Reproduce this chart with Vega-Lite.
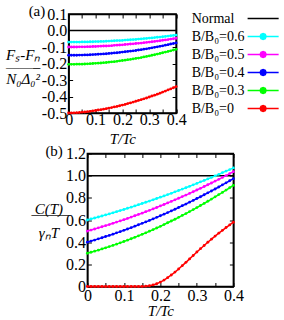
{
  "$schema": "https://vega.github.io/schema/vega-lite/v6.json",
  "padding": {"left": 4.5, "top": 3, "right": 0, "bottom": 0},
  "background": "white",
  "datasets": {
    "curves": [
      {"s":"Normal","t":0,"f":0,"c":1},{"s":"Normal","t":0.4,"f":0,"c":1},
      {"s":"0.6","t":0,"f":-0.07,"c":0.6},{"s":"0.6","t":0.01,"f":-0.07,"c":0.609},{"s":"0.6","t":0.02,"f":-0.07,"c":0.618},{"s":"0.6","t":0.03,"f":-0.07,"c":0.627},{"s":"0.6","t":0.04,"f":-0.07,"c":0.636},{"s":"0.6","t":0.05,"f":-0.069,"c":0.646},{"s":"0.6","t":0.06,"f":-0.069,"c":0.655},{"s":"0.6","t":0.07,"f":-0.069,"c":0.665},{"s":"0.6","t":0.08,"f":-0.068,"c":0.675},{"s":"0.6","t":0.09,"f":-0.068,"c":0.685},{"s":"0.6","t":0.1,"f":-0.067,"c":0.695},{"s":"0.6","t":0.11,"f":-0.067,"c":0.706},{"s":"0.6","t":0.12,"f":-0.066,"c":0.716},{"s":"0.6","t":0.13,"f":-0.066,"c":0.727},{"s":"0.6","t":0.14,"f":-0.065,"c":0.738},{"s":"0.6","t":0.15,"f":-0.064,"c":0.749},{"s":"0.6","t":0.16,"f":-0.063,"c":0.76},{"s":"0.6","t":0.17,"f":-0.062,"c":0.771},{"s":"0.6","t":0.18,"f":-0.061,"c":0.782},{"s":"0.6","t":0.19,"f":-0.061,"c":0.794},{"s":"0.6","t":0.2,"f":-0.06,"c":0.806},{"s":"0.6","t":0.21,"f":-0.058,"c":0.817},{"s":"0.6","t":0.22,"f":-0.057,"c":0.829},{"s":"0.6","t":0.23,"f":-0.056,"c":0.841},{"s":"0.6","t":0.24,"f":-0.055,"c":0.854},{"s":"0.6","t":0.25,"f":-0.054,"c":0.866},{"s":"0.6","t":0.26,"f":-0.052,"c":0.879},{"s":"0.6","t":0.27,"f":-0.051,"c":0.891},{"s":"0.6","t":0.28,"f":-0.049,"c":0.904},{"s":"0.6","t":0.29,"f":-0.048,"c":0.917},{"s":"0.6","t":0.3,"f":-0.046,"c":0.93},{"s":"0.6","t":0.31,"f":-0.045,"c":0.944},{"s":"0.6","t":0.32,"f":-0.043,"c":0.957},{"s":"0.6","t":0.33,"f":-0.041,"c":0.971},{"s":"0.6","t":0.34,"f":-0.04,"c":0.984},{"s":"0.6","t":0.35,"f":-0.038,"c":0.998},{"s":"0.6","t":0.36,"f":-0.036,"c":1.012},{"s":"0.6","t":0.37,"f":-0.034,"c":1.027},{"s":"0.6","t":0.38,"f":-0.032,"c":1.041},{"s":"0.6","t":0.39,"f":-0.03,"c":1.055},{"s":"0.6","t":0.4,"f":-0.028,"c":1.07},
      {"s":"0.5","t":0,"f":-0.1,"c":0.5},{"s":"0.5","t":0.01,"f":-0.1,"c":0.509},{"s":"0.5","t":0.02,"f":-0.1,"c":0.519},{"s":"0.5","t":0.03,"f":-0.1,"c":0.529},{"s":"0.5","t":0.04,"f":-0.099,"c":0.539},{"s":"0.5","t":0.05,"f":-0.099,"c":0.549},{"s":"0.5","t":0.06,"f":-0.099,"c":0.559},{"s":"0.5","t":0.07,"f":-0.098,"c":0.57},{"s":"0.5","t":0.08,"f":-0.098,"c":0.581},{"s":"0.5","t":0.09,"f":-0.097,"c":0.592},{"s":"0.5","t":0.1,"f":-0.097,"c":0.603},{"s":"0.5","t":0.11,"f":-0.096,"c":0.614},{"s":"0.5","t":0.12,"f":-0.095,"c":0.626},{"s":"0.5","t":0.13,"f":-0.094,"c":0.638},{"s":"0.5","t":0.14,"f":-0.094,"c":0.65},{"s":"0.5","t":0.15,"f":-0.093,"c":0.662},{"s":"0.5","t":0.16,"f":-0.092,"c":0.675},{"s":"0.5","t":0.17,"f":-0.09,"c":0.687},{"s":"0.5","t":0.18,"f":-0.089,"c":0.7},{"s":"0.5","t":0.19,"f":-0.088,"c":0.713},{"s":"0.5","t":0.2,"f":-0.087,"c":0.727},{"s":"0.5","t":0.21,"f":-0.085,"c":0.74},{"s":"0.5","t":0.22,"f":-0.084,"c":0.754},{"s":"0.5","t":0.23,"f":-0.082,"c":0.768},{"s":"0.5","t":0.24,"f":-0.081,"c":0.782},{"s":"0.5","t":0.25,"f":-0.079,"c":0.796},{"s":"0.5","t":0.26,"f":-0.078,"c":0.811},{"s":"0.5","t":0.27,"f":-0.076,"c":0.825},{"s":"0.5","t":0.28,"f":-0.074,"c":0.84},{"s":"0.5","t":0.29,"f":-0.072,"c":0.855},{"s":"0.5","t":0.3,"f":-0.07,"c":0.871},{"s":"0.5","t":0.31,"f":-0.068,"c":0.886},{"s":"0.5","t":0.32,"f":-0.066,"c":0.902},{"s":"0.5","t":0.33,"f":-0.064,"c":0.918},{"s":"0.5","t":0.34,"f":-0.062,"c":0.934},{"s":"0.5","t":0.35,"f":-0.059,"c":0.951},{"s":"0.5","t":0.36,"f":-0.057,"c":0.967},{"s":"0.5","t":0.37,"f":-0.055,"c":0.984},{"s":"0.5","t":0.38,"f":-0.052,"c":1.001},{"s":"0.5","t":0.39,"f":-0.05,"c":1.019},{"s":"0.5","t":0.4,"f":-0.047,"c":1.036},
      {"s":"0.4","t":0,"f":-0.15,"c":0.4},{"s":"0.4","t":0.01,"f":-0.15,"c":0.41},{"s":"0.4","t":0.02,"f":-0.15,"c":0.419},{"s":"0.4","t":0.03,"f":-0.15,"c":0.43},{"s":"0.4","t":0.04,"f":-0.149,"c":0.44},{"s":"0.4","t":0.05,"f":-0.149,"c":0.451},{"s":"0.4","t":0.06,"f":-0.148,"c":0.461},{"s":"0.4","t":0.07,"f":-0.148,"c":0.472},{"s":"0.4","t":0.08,"f":-0.147,"c":0.484},{"s":"0.4","t":0.09,"f":-0.146,"c":0.495},{"s":"0.4","t":0.1,"f":-0.145,"c":0.507},{"s":"0.4","t":0.11,"f":-0.144,"c":0.519},{"s":"0.4","t":0.12,"f":-0.143,"c":0.531},{"s":"0.4","t":0.13,"f":-0.142,"c":0.544},{"s":"0.4","t":0.14,"f":-0.141,"c":0.557},{"s":"0.4","t":0.15,"f":-0.139,"c":0.57},{"s":"0.4","t":0.16,"f":-0.138,"c":0.583},{"s":"0.4","t":0.17,"f":-0.136,"c":0.596},{"s":"0.4","t":0.18,"f":-0.135,"c":0.61},{"s":"0.4","t":0.19,"f":-0.133,"c":0.624},{"s":"0.4","t":0.2,"f":-0.131,"c":0.638},{"s":"0.4","t":0.21,"f":-0.129,"c":0.653},{"s":"0.4","t":0.22,"f":-0.127,"c":0.667},{"s":"0.4","t":0.23,"f":-0.125,"c":0.682},{"s":"0.4","t":0.24,"f":-0.123,"c":0.697},{"s":"0.4","t":0.25,"f":-0.121,"c":0.713},{"s":"0.4","t":0.26,"f":-0.118,"c":0.729},{"s":"0.4","t":0.27,"f":-0.116,"c":0.744},{"s":"0.4","t":0.28,"f":-0.113,"c":0.761},{"s":"0.4","t":0.29,"f":-0.111,"c":0.777},{"s":"0.4","t":0.3,"f":-0.108,"c":0.794},{"s":"0.4","t":0.31,"f":-0.105,"c":0.81},{"s":"0.4","t":0.32,"f":-0.102,"c":0.828},{"s":"0.4","t":0.33,"f":-0.099,"c":0.845},{"s":"0.4","t":0.34,"f":-0.096,"c":0.862},{"s":"0.4","t":0.35,"f":-0.093,"c":0.88},{"s":"0.4","t":0.36,"f":-0.089,"c":0.898},{"s":"0.4","t":0.37,"f":-0.086,"c":0.917},{"s":"0.4","t":0.38,"f":-0.082,"c":0.935},{"s":"0.4","t":0.39,"f":-0.079,"c":0.954},{"s":"0.4","t":0.4,"f":-0.075,"c":0.973},
      {"s":"0.3","t":0,"f":-0.205,"c":0.3},{"s":"0.3","t":0.01,"f":-0.205,"c":0.309},{"s":"0.3","t":0.02,"f":-0.205,"c":0.319},{"s":"0.3","t":0.03,"f":-0.204,"c":0.328},{"s":"0.3","t":0.04,"f":-0.204,"c":0.339},{"s":"0.3","t":0.05,"f":-0.204,"c":0.349},{"s":"0.3","t":0.06,"f":-0.203,"c":0.36},{"s":"0.3","t":0.07,"f":-0.202,"c":0.371},{"s":"0.3","t":0.08,"f":-0.201,"c":0.382},{"s":"0.3","t":0.09,"f":-0.2,"c":0.394},{"s":"0.3","t":0.1,"f":-0.199,"c":0.406},{"s":"0.3","t":0.11,"f":-0.198,"c":0.418},{"s":"0.3","t":0.12,"f":-0.197,"c":0.431},{"s":"0.3","t":0.13,"f":-0.195,"c":0.444},{"s":"0.3","t":0.14,"f":-0.194,"c":0.457},{"s":"0.3","t":0.15,"f":-0.192,"c":0.471},{"s":"0.3","t":0.16,"f":-0.19,"c":0.484},{"s":"0.3","t":0.17,"f":-0.189,"c":0.499},{"s":"0.3","t":0.18,"f":-0.187,"c":0.513},{"s":"0.3","t":0.19,"f":-0.184,"c":0.528},{"s":"0.3","t":0.2,"f":-0.182,"c":0.543},{"s":"0.3","t":0.21,"f":-0.18,"c":0.559},{"s":"0.3","t":0.22,"f":-0.177,"c":0.575},{"s":"0.3","t":0.23,"f":-0.175,"c":0.591},{"s":"0.3","t":0.24,"f":-0.172,"c":0.607},{"s":"0.3","t":0.25,"f":-0.169,"c":0.624},{"s":"0.3","t":0.26,"f":-0.167,"c":0.641},{"s":"0.3","t":0.27,"f":-0.164,"c":0.658},{"s":"0.3","t":0.28,"f":-0.16,"c":0.676},{"s":"0.3","t":0.29,"f":-0.157,"c":0.694},{"s":"0.3","t":0.3,"f":-0.154,"c":0.712},{"s":"0.3","t":0.31,"f":-0.15,"c":0.731},{"s":"0.3","t":0.32,"f":-0.147,"c":0.75},{"s":"0.3","t":0.33,"f":-0.143,"c":0.769},{"s":"0.3","t":0.34,"f":-0.139,"c":0.789},{"s":"0.3","t":0.35,"f":-0.135,"c":0.809},{"s":"0.3","t":0.36,"f":-0.131,"c":0.829},{"s":"0.3","t":0.37,"f":-0.127,"c":0.849},{"s":"0.3","t":0.38,"f":-0.123,"c":0.87},{"s":"0.3","t":0.39,"f":-0.118,"c":0.891},{"s":"0.3","t":0.4,"f":-0.114,"c":0.913},
      {"s":"0","t":0,"f":-0.5,"c":0},{"s":"0","t":0.01,"f":-0.5,"c":0},{"s":"0","t":0.02,"f":-0.499,"c":0},{"s":"0","t":0.03,"f":-0.498,"c":0},{"s":"0","t":0.04,"f":-0.497,"c":0},{"s":"0","t":0.05,"f":-0.495,"c":0},{"s":"0","t":0.06,"f":-0.494,"c":0},{"s":"0","t":0.07,"f":-0.492,"c":0},{"s":"0","t":0.08,"f":-0.49,"c":0},{"s":"0","t":0.09,"f":-0.487,"c":0},{"s":"0","t":0.1,"f":-0.485,"c":0},{"s":"0","t":0.11,"f":-0.482,"c":0},{"s":"0","t":0.12,"f":-0.48,"c":0},{"s":"0","t":0.13,"f":-0.477,"c":0},{"s":"0","t":0.14,"f":-0.474,"c":0},{"s":"0","t":0.15,"f":-0.47,"c":0.001},{"s":"0","t":0.16,"f":-0.467,"c":0.003},{"s":"0","t":0.17,"f":-0.463,"c":0.007},{"s":"0","t":0.18,"f":-0.46,"c":0.014},{"s":"0","t":0.19,"f":-0.456,"c":0.025},{"s":"0","t":0.2,"f":-0.452,"c":0.04},{"s":"0","t":0.21,"f":-0.448,"c":0.058},{"s":"0","t":0.22,"f":-0.443,"c":0.08},{"s":"0","t":0.23,"f":-0.439,"c":0.104},{"s":"0","t":0.24,"f":-0.434,"c":0.13},{"s":"0","t":0.25,"f":-0.429,"c":0.158},{"s":"0","t":0.26,"f":-0.424,"c":0.188},{"s":"0","t":0.27,"f":-0.419,"c":0.218},{"s":"0","t":0.28,"f":-0.414,"c":0.249},{"s":"0","t":0.29,"f":-0.409,"c":0.28},{"s":"0","t":0.3,"f":-0.403,"c":0.311},{"s":"0","t":0.31,"f":-0.397,"c":0.341},{"s":"0","t":0.32,"f":-0.392,"c":0.37},{"s":"0","t":0.33,"f":-0.386,"c":0.399},{"s":"0","t":0.34,"f":-0.38,"c":0.427},{"s":"0","t":0.35,"f":-0.373,"c":0.455},{"s":"0","t":0.36,"f":-0.367,"c":0.481},{"s":"0","t":0.37,"f":-0.36,"c":0.507},{"s":"0","t":0.38,"f":-0.354,"c":0.532},{"s":"0","t":0.39,"f":-0.347,"c":0.556},{"s":"0","t":0.4,"f":-0.34,"c":0.58}
    ]
  },
  "data": {"name": "curves"},
  "spacing": -4.5,
  "center": true,
  "resolve": {"scale": {"color": "independent", "x": "independent", "y": "independent"}},
  "vconcat": [
    {
      "width": 107.5,
      "height": 99,
      "title": {"text": "(a)", "dx": -40, "offset": -13},
      "layer": [
        {
          "mark": {"type": "line", "strokeWidth": 1.5},
          "encoding": {
            "x": {"field": "t", "type": "quantitative", "scale": {"domain": [0, 0.4], "nice": false, "zero": false},
              "axis": {"orient": "bottom", "values": [0, 0.05, 0.1, 0.15, 0.2, 0.25, 0.3, 0.35, 0.4], "labelPadding": 2,
                "labelExpr": "round(datum.value*20) % 2 == 0 ? (datum.value == 0 ? '0' : format(datum.value, '.1f')) : ''",
                "title": "T/Tc", "titlePadding": 4}},
            "y": {"field": "f", "type": "quantitative", "scale": {"domain": [-0.5, 0.1], "nice": false, "zero": false},
              "axis": {"orient": "left", "values": [-0.5, -0.4, -0.3, -0.2, -0.1, 0, 0.1], "labelPadding": 6,
                "labelExpr": "replace(format(datum.value, '.1f'), '\u2212', '-')",
                "title": ["Fₛ-Fₙ", "——–", "N₀Δ₀²"], "titleAngle": 0, "titleAlign": "center", "titleBaseline": "middle",
                "titleX": -46, "titleY": 40.5, "titleLineHeight": 12}},
            "color": {"field": "s", "type": "nominal",
              "scale": {"domain": ["Normal", "0.6", "0.5", "0.4", "0.3", "0"], "range": ["#000000", "#00ffff", "#ff00ff", "#0000ff", "#00ff00", "#ff0000"]},
              "legend": {
                "title": null, "orient": "right", "offset": 79, "padding": -4,
                "labelExpr": "datum.label == 'Normal' ? 'Normal' : 'B/B₀=' + datum.label",
                "labelFont": "Liberation Serif", "labelFontSize": 14, "labelColor": "black",
                "labelAlign": "left", "labelOffset": -80, "symbolSize": 225, "rowPadding": 2,
                "encode": {
                  "symbols": {
                    "update": {
                      "shape": {"signal": "datum.value === 'Normal' ? 'M-2.07,0H2.07' : 'M-2.07,0H2.07M0.4,0L0.28,0.28L0,0.4L-0.28,0.28L-0.4,0L-0.28,-0.28L0,-0.4L0.28,-0.28Z'"},
                      "fill": {"signal": "datum.value === 'Normal' ? '#000000' : datum.value === '0.6' ? '#00ffff' : datum.value === '0.5' ? '#ff00ff' : datum.value === '0.4' ? '#0000ff' : datum.value === '0.3' ? '#00ff00' : '#ff0000'"},
                      "stroke": {"signal": "datum.value === 'Normal' ? '#000000' : datum.value === '0.6' ? '#00ffff' : datum.value === '0.5' ? '#ff00ff' : datum.value === '0.4' ? '#0000ff' : datum.value === '0.3' ? '#00ff00' : '#ff0000'"},
                      "strokeWidth": {"value": 1.5},
                      "opacity": {"value": 1}
                    }
                  }
                }
              }}
          }
        },
        {
          "transform": [{"filter": "datum.s != 'Normal'"}],
          "mark": {"type": "point", "filled": true, "size": 8, "opacity": 1},
          "encoding": {
            "x": {"field": "t", "type": "quantitative",
              "axis": {"orient": "top", "values": [0, 0.05, 0.1, 0.15, 0.2, 0.25, 0.3, 0.35, 0.4], "labels": false, "title": null}},
            "y": {"field": "f", "type": "quantitative",
              "axis": {"orient": "right", "values": [-0.5, -0.4, -0.3, -0.2, -0.1, 0, 0.1], "labels": false, "title": null}},
            "color": {"field": "s", "type": "nominal"}
          }
        }
      ]
    },
    {
      "width": 146,
      "height": 133,
      "title": {"text": "(b)", "dx": -42, "offset": -13},
      "layer": [
        {
          "mark": {"type": "line", "strokeWidth": 1.5},
          "encoding": {
            "x": {"field": "t", "type": "quantitative", "scale": {"domain": [0, 0.4], "nice": false, "zero": false},
              "axis": {"orient": "bottom", "values": [0, 0.05, 0.1, 0.15, 0.2, 0.25, 0.3, 0.35, 0.4], "labelPadding": 5,
                "labelExpr": "round(datum.value*20) % 2 == 0 ? (datum.value == 0 ? '0' : format(datum.value, '.1f')) : ''",
                "title": "T/Tc", "titlePadding": 0}},
            "y": {"field": "c", "type": "quantitative", "scale": {"domain": [0, 1.2], "nice": false, "zero": false},
              "axis": {"orient": "left", "values": [0, 0.2, 0.4, 0.6, 0.8, 1, 1.2], "labelPadding": 6,
                "labelExpr": "datum.value == 0 ? '0' : format(datum.value, '.1f')",
                "title": ["C(T)", "¯¯¯¯¯", "γₙT"], "titleAngle": 0, "titleAlign": "center", "titleBaseline": "middle",
                "titleX": -39, "titleY": 55, "titleLineHeight": 12}},
            "color": {"field": "s", "type": "nominal",
              "scale": {"domain": ["Normal", "0.6", "0.5", "0.4", "0.3", "0"], "range": ["#000000", "#00ffff", "#ff00ff", "#0000ff", "#00ff00", "#ff0000"]},
              "legend": null}
          }
        },
        {
          "transform": [{"filter": "datum.s != 'Normal'"}],
          "mark": {"type": "point", "filled": true, "size": 8, "opacity": 1},
          "encoding": {
            "x": {"field": "t", "type": "quantitative",
              "axis": {"orient": "top", "values": [0, 0.05, 0.1, 0.15, 0.2, 0.25, 0.3, 0.35, 0.4], "labels": false, "title": null}},
            "y": {"field": "c", "type": "quantitative",
              "axis": {"orient": "right", "values": [0, 0.2, 0.4, 0.6, 0.8, 1, 1.2], "labels": false,
                "title": "I", "titleOpacity": 0, "titlePadding": 11}},
            "color": {"field": "s", "type": "nominal", "legend": null}
          }
        }
      ]
    }
  ],
  "config": {
    "font": "Liberation Serif",
    "view": {"stroke": "black", "strokeWidth": 1.5},
    "title": {"font": "Liberation Serif", "fontSize": 15, "fontWeight": "normal", "color": "black", "anchor": "start", "frame": "group", "baseline": "middle"},
    "axis": {
      "grid": false, "domainColor": "black", "domainWidth": 1.5, "tickColor": "black", "tickWidth": 1, "tickSize": -4,
      "labelFont": "Liberation Serif", "labelFontSize": 16, "labelColor": "black",
      "labelOverlap": false, "labelFlush": false, "labelBound": false,
      "titleFont": "Liberation Serif", "titleFontSize": 15, "titleFontStyle": "italic", "titleFontWeight": "normal", "titleColor": "black"
    },
    "legend": {"labelFont": "Liberation Serif", "labelFontSize": 14}
  }
}
